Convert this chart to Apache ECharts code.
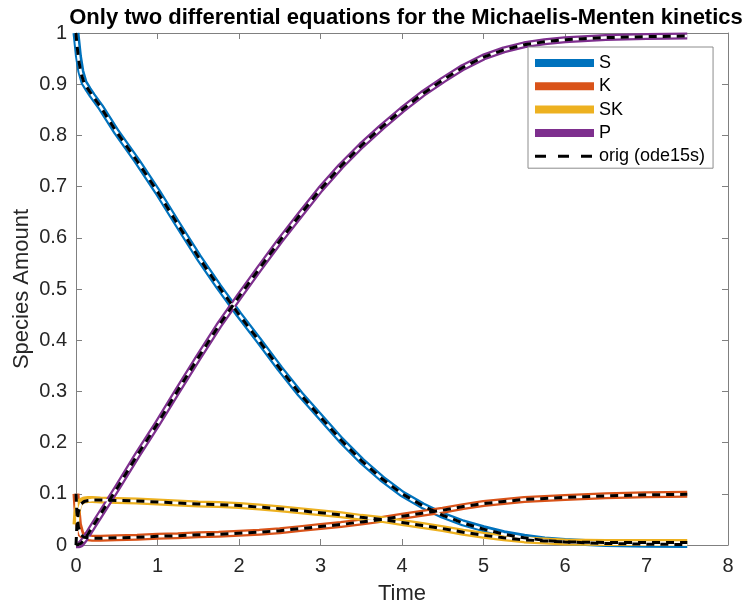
<!DOCTYPE html>
<html>
<head>
<meta charset="utf-8">
<script src="https://cdn.jsdelivr.net/npm/echarts@6/dist/echarts.min.js"></script>
<style>html,body{margin:0;padding:0;background:#fff;}#c{width:742px;height:607px;}</style>
</head>
<body>
<div id="c"></div>
<script>
// ---- data ----
const titleText = 'Only two differential equations for the Michaelis-Menten kinetics';
const xName = 'Time';
const yName = 'Species Amount';
const speciesNames = ['S', 'K', 'SK', 'P'];
const origName = 'orig (ode15s)';

const time = [0, 0.01, 0.03, 0.06, 0.1, 0.15, 0.2, 0.3, 0.5, 0.75, 1, 1.25, 1.5, 1.75, 2, 2.25, 2.5, 2.75, 3, 3.25, 3.5, 3.75, 4, 4.25, 4.5, 4.75, 5, 5.25, 5.5, 5.75, 6, 6.5, 7, 7.5];

const S  = [1.0, 0.985, 0.955, 0.925, 0.903, 0.89, 0.878, 0.856, 0.806, 0.75, 0.69, 0.626, 0.563, 0.505, 0.45, 0.398, 0.345, 0.295, 0.25, 0.205, 0.165, 0.13, 0.10, 0.077, 0.058, 0.043, 0.032, 0.022, 0.015, 0.010, 0.007, 0.003, 0.0015, 0.001];
const K  = [0.1, 0.075, 0.04, 0.022, 0.016, 0.014, 0.013, 0.013, 0.014, 0.015, 0.017, 0.018, 0.020, 0.021, 0.023, 0.025, 0.028, 0.032, 0.036, 0.040, 0.045, 0.050, 0.056, 0.062, 0.068, 0.075, 0.081, 0.085, 0.089, 0.091, 0.093, 0.096, 0.098, 0.099];
const SK = [0.04, 0.062, 0.078, 0.085, 0.088, 0.089, 0.089, 0.088, 0.087, 0.086, 0.084, 0.082, 0.080, 0.079, 0.077, 0.074, 0.071, 0.067, 0.063, 0.059, 0.054, 0.050, 0.044, 0.038, 0.032, 0.025, 0.019, 0.014, 0.010, 0.008, 0.006, 0.005, 0.005, 0.005];
const P  = [0, 0, 0, 0.002, 0.01, 0.022, 0.035, 0.06, 0.11, 0.175, 0.237, 0.302, 0.366, 0.428, 0.485, 0.54, 0.594, 0.645, 0.695, 0.74, 0.78, 0.816, 0.85, 0.881, 0.908, 0.933, 0.953, 0.967, 0.977, 0.983, 0.987, 0.991, 0.993, 0.994];

const S_orig  = [1.0, 0.98, 0.95, 0.922, 0.902, 0.89, 0.878, 0.856, 0.806, 0.75, 0.69, 0.626, 0.563, 0.505, 0.45, 0.398, 0.345, 0.295, 0.25, 0.205, 0.165, 0.13, 0.10, 0.077, 0.058, 0.043, 0.031, 0.021, 0.014, 0.009, 0.006, 0.003, 0.0015, 0.001];
const K_orig  = [0.1, 0.065, 0.035, 0.02, 0.015, 0.014, 0.013, 0.013, 0.014, 0.015, 0.017, 0.018, 0.020, 0.021, 0.023, 0.025, 0.028, 0.032, 0.036, 0.040, 0.045, 0.050, 0.056, 0.062, 0.068, 0.075, 0.081, 0.085, 0.089, 0.091, 0.093, 0.096, 0.098, 0.099];
const SK_orig = [0, 0.035, 0.065, 0.08, 0.085, 0.087, 0.088, 0.088, 0.087, 0.086, 0.084, 0.082, 0.080, 0.079, 0.077, 0.074, 0.071, 0.067, 0.063, 0.059, 0.054, 0.050, 0.044, 0.038, 0.032, 0.025, 0.019, 0.014, 0.010, 0.008, 0.006, 0.005, 0.005, 0.005];
const P_orig  = [0, 0.0003, 0.001, 0.003, 0.01, 0.022, 0.035, 0.06, 0.11, 0.175, 0.237, 0.302, 0.366, 0.428, 0.485, 0.54, 0.594, 0.645, 0.695, 0.74, 0.78, 0.816, 0.85, 0.881, 0.908, 0.933, 0.953, 0.967, 0.977, 0.983, 0.987, 0.991, 0.993, 0.994];

const xMin = 0, xMax = 8, xStep = 1;
const yMin = 0, yMax = 1, yStep = 0.1;

// ---- styling ----
const colors = ['#0072BD', '#D95319', '#EDB120', '#7E2F8E'];
const FONT = 'Arial, "Liberation Sans", Helvetica, sans-serif';
const axisGray = '#808080';
const textDark = '#262626';

const fitted = [S, K, SK, P];
const orig = [S_orig, K_orig, SK_orig, P_orig];
const pairs = arr => time.map((t, i) => [t, arr[i]]);

const series = [];
fitted.forEach((arr, i) => {
  series.push({
    name: speciesNames[i], type: 'line', data: pairs(arr), showSymbol: false, symbol: 'none',
    smooth: false,
    lineStyle: { color: colors[i], width: 7, join: 'round' }, itemStyle: { color: colors[i] }
  });
});
fitted.forEach((arr, i) => {
  series.push({
    name: '_white' + i, type: 'line', data: pairs(orig[i]), showSymbol: false, symbol: 'none',
    smooth: false, silent: true,
    lineStyle: { color: '#ffffff', width: 2.5, join: 'round' }, itemStyle: { color: '#ffffff' }
  });
});
orig.forEach((arr, i) => {
  series.push({
    name: origName, type: 'line', data: pairs(arr), showSymbol: false, symbol: 'none',
    smooth: false,
    lineStyle: { color: '#000000', width: 3, type: [8, 6] }, itemStyle: { color: '#000000' }
  });
});

const legendData = speciesNames.map(n => ({ name: n, lineStyle: { width: 8 } }));
legendData.push({ name: origName, lineStyle: { width: 3, type: [11, 12] } });

const axisCommon = {
  type: 'value',
  axisLine: { show: true, onZero: false, lineStyle: { color: axisGray, width: 1 } },
  axisTick: { show: true, inside: true, length: 6, lineStyle: { color: axisGray } },
  splitLine: { show: false },
};

const chart = echarts.init(document.getElementById('c'), null, { renderer: 'canvas' });
chart.setOption({
  animation: false,
  backgroundColor: '#ffffff',
  title: {
    text: titleText, left: 401, top: 2, textAlign: 'center',
    textStyle: { fontFamily: FONT, fontWeight: 'bold', fontSize: 22, color: '#000' }
  },
  grid: { left: 76, right: 14, top: 33, bottom: 62, containLabel: false, outerBoundsMode: 'none' },
  legend: {
    orient: 'vertical', left: 528, top: 47,
    padding: [7, 8, 3, 3], itemWidth: 59, itemHeight: 1, itemGap: 5.3,
    itemStyle: { opacity: 0 },
    borderColor: '#8c8c8c', borderWidth: 1, backgroundColor: '#ffffff',
    textStyle: { fontFamily: FONT, fontSize: 18, color: '#000', lineHeight: 16 },
    data: legendData
  },
  xAxis: [
    Object.assign({}, axisCommon, {
      min: xMin, max: xMax, interval: xStep, position: 'bottom',
      axisLabel: { color: textDark, fontFamily: FONT, fontSize: 20, margin: 11 },
      name: xName, nameLocation: 'middle', nameGap: 38, nameMoveOverlap: false,
      nameTextStyle: { color: textDark, fontFamily: FONT, fontSize: 22 }
    }),
    Object.assign({}, axisCommon, {
      min: xMin, max: xMax, interval: xStep, position: 'top',
      axisLabel: { show: false }
    })
  ],
  yAxis: [
    Object.assign({}, axisCommon, {
      min: yMin, max: yMax, interval: yStep, position: 'left',
      axisLabel: { color: textDark, fontFamily: FONT, fontSize: 20, margin: 9 },
      name: yName, nameLocation: 'middle', nameGap: 43, nameMoveOverlap: false,
      nameTextStyle: { color: textDark, fontFamily: FONT, fontSize: 22 }
    }),
    Object.assign({}, axisCommon, {
      min: yMin, max: yMax, interval: yStep, position: 'right',
      axisLabel: { show: false }
    })
  ],
  series: series
});
</script>
</body>
</html>
